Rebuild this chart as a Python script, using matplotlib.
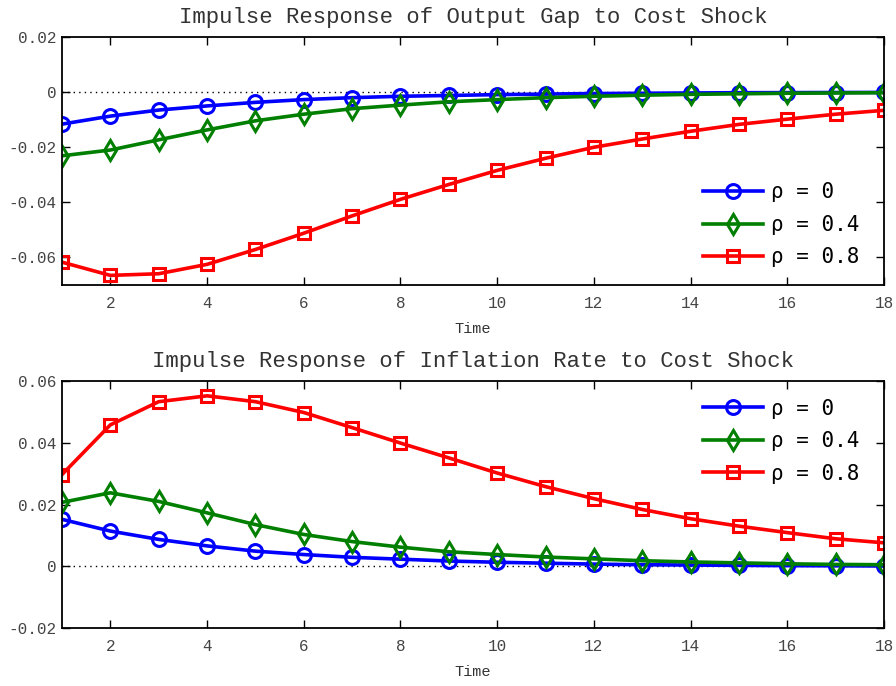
import numpy as np
import matplotlib
matplotlib.use("Agg")
import matplotlib.pyplot as plt
from matplotlib.ticker import FuncFormatter

plt.rcParams['font.family'] = ['Liberation Mono', 'DejaVu Sans Mono']
plt.rcParams['axes.unicode_minus'] = False

time = np.arange(1, 19)
labels = ['\u03c1 = 0', '\u03c1 = 0.4', '\u03c1 = 0.8']

# output gap responses
gap_rho0 = [-0.0116, -0.0087, -0.0065, -0.0050, -0.0037, -0.0027, -0.0020, -0.0015, -0.0012,
            -0.0009, -0.0007, -0.0005, -0.0004, -0.0003, -0.0002, -0.00017, -0.00013, -0.0001]
gap_rho04 = [-0.0231, -0.0210, -0.0173, -0.0137, -0.0104, -0.0080, -0.0060, -0.0047, -0.0035,
             -0.0027, -0.0020, -0.0015, -0.0011, -0.0008, -0.0006, -0.0004, -0.0003, -0.0002]
gap_rho08 = [-0.0617, -0.0665, -0.0659, -0.0625, -0.0571, -0.0512, -0.0449, -0.0389, -0.0335,
             -0.0284, -0.0240, -0.0200, -0.0170, -0.0142, -0.0117, -0.0098, -0.0080, -0.0066]

# inflation responses
inf_rho0 = [0.0152, 0.0114, 0.0087, 0.0066, 0.0049, 0.0038, 0.0029, 0.0023, 0.0017,
            0.0013, 0.0010, 0.0007, 0.0005, 0.0004, 0.0003, 0.0002, 0.00015, 0.0001]
inf_rho04 = [0.0207, 0.0238, 0.0210, 0.0173, 0.0135, 0.0103, 0.0080, 0.0062, 0.0047,
             0.0038, 0.0030, 0.0024, 0.0018, 0.0014, 0.0011, 0.0008, 0.0006, 0.0005]
inf_rho08 = [0.0297, 0.0458, 0.0533, 0.0552, 0.0533, 0.0498, 0.0449, 0.0399, 0.0351,
             0.0302, 0.0258, 0.0219, 0.0184, 0.0154, 0.0130, 0.0109, 0.0089, 0.0076]

colors = ['#0000ff', '#007f00', '#ff0000']
markers = ['o', 'd', 's']
msizes = [10, 10.5, 9]

fig = plt.figure(figsize=(8.96, 6.86), dpi=100)
ax1 = fig.add_axes([0.0692, 0.5845, 0.9174, 0.3615])
ax2 = fig.add_axes([0.0692, 0.0845, 0.9174, 0.3601])


def fmt(v, pos):
    if abs(v) < 1e-12:
        return '0'
    return '%.2f' % v


def draw(ax, series, title, ylim, yticks, legloc, anchor):
    ax.plot(time, np.zeros(len(time)), color='black', linestyle=(0, (1, 3)), linewidth=1.0)
    for s, c, m, ms, lab in zip(series, colors, markers, msizes, labels):
        ax.plot(time, s, color=c, marker=m, markersize=ms, markerfacecolor='none',
                markeredgewidth=2.2, linewidth=2.6, label=lab)
    ax.set_xlim(1, 18)
    ax.set_ylim(*ylim)
    ax.set_xticks(range(2, 19, 2))
    ax.set_yticks(yticks)
    ax.yaxis.set_major_formatter(FuncFormatter(fmt))
    ax.tick_params(direction='in', top=True, right=True, length=6, width=1,
                   labelsize=11.5, labelcolor='#444444')
    ax.tick_params(axis='y', pad=4)
    ax.tick_params(axis='x', pad=8)
    for sp in ax.spines.values():
        sp.set_linewidth(1.3)
    ax.set_title(title, fontsize=16, pad=10, color='#333333')
    ax.set_xlabel('Time', fontsize=11, color='#333333', labelpad=8)
    ax.legend(loc=legloc, bbox_to_anchor=anchor, frameon=False, handlelength=2.9,
              handletextpad=0.35, labelspacing=0.6, borderaxespad=0.8,
              prop={'family': ['DejaVu Sans Mono'], 'size': 15})


draw(ax1, [gap_rho0, gap_rho04, gap_rho08], 'Impulse Response of Output Gap to Cost Shock',
     (-0.07, 0.02), [-0.06, -0.04, -0.02, 0, 0.02], 'lower right', (1, -0.03))
draw(ax2, [inf_rho0, inf_rho04, inf_rho08], 'Impulse Response of Inflation Rate to Cost Shock',
     (-0.02, 0.06), [-0.02, 0, 0.02, 0.04, 0.06], 'upper right', (1, 1.03))

fig.savefig('out.png', dpi=100, facecolor='w')
